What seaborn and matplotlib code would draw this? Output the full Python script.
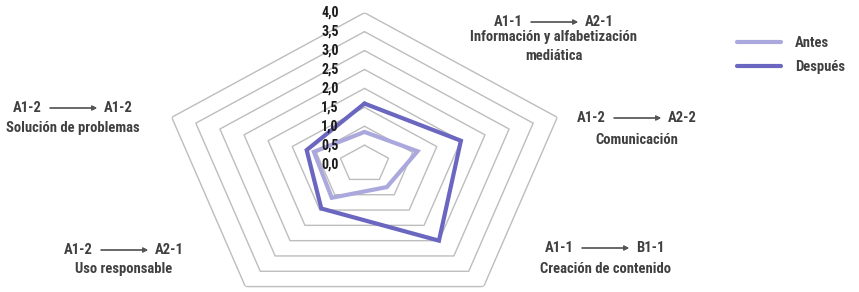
import numpy as np
import pandas as pd
import matplotlib.pyplot as plt
import seaborn as sns
from matplotlib.lines import Line2D

# Datos del gráfico
categorias = ['Información y alfabetización\nmediática', 'Comunicación',
              'Creación de contenido', 'Uso responsable', 'Solución de problemas']
nivel_inicio = ['A1-1', 'A1-2', 'A1-1', 'A1-2', 'A1-2']
nivel_fin = ['A2-1', 'A2-2', 'B1-1', 'A2-1', 'A1-2']
antes = [0.85, 1.1, 0.75, 1.1, 1.05]
despues = [1.6, 2.0, 2.5, 1.45, 1.2]
niveles = [0.0, 0.5, 1.0, 1.5, 2.0, 2.5, 3.0, 3.5, 4.0]
etiquetas_niveles = ['0,0', '0,5', '1,0', '1,5', '2,0', '2,5', '3,0', '3,5', '4,0']

sns.set_style('white')
plt.rcParams['font.family'] = ['Roboto Condensed', 'Archivo Narrow', 'DejaVu Sans']

color_antes = '#aaa8dc'
color_despues = '#6b67c0'
color_texto = '#404040'

# Angulos (sentido horario desde arriba), cerrando el poligono en 2*pi
n = len(categorias)
angulos = list(np.linspace(0, 2 * np.pi, n, endpoint=False)) + [2 * np.pi]

df = pd.DataFrame({
    'angulo': angulos * 2,
    'valor': antes + antes[:1] + despues + despues[:1],
    'grupo': ['Antes'] * (n + 1) + ['Después'] * (n + 1),
})

W, H = 859, 292
fig = plt.figure(figsize=(W / 100, H / 100), dpi=100)
ax = fig.add_axes([161.8 / W, 1 - 315.5 / H, 405.4 / W, 302.8 / H], projection='polar')
ax.set_aspect('auto')
ax.set_theta_zero_location('N')
ax.set_theta_direction(-1)

# Rejilla pentagonal
for lvl in niveles[1:]:
    ax.plot(angulos, [lvl] * (n + 1), color='#bdbdbd', lw=1.0, zorder=1)

sns.lineplot(data=df, x='angulo', y='valor', hue='grupo', sort=False, estimator=None,
             palette={'Antes': color_antes, 'Después': color_despues},
             lw=3, legend=False, ax=ax, solid_joinstyle='miter', zorder=3)

ax.set_ylim(0, 4)
ax.grid(False)
ax.set_xticks([])
ax.set_yticks([])
ax.set_xlabel('')
ax.set_ylabel('')
ax.spines['polar'].set_visible(False)

# Etiquetas de la escala
for lvl, lab in zip(niveles, etiquetas_niveles):
    ax.annotate(lab, xy=(0, lvl), xytext=(-26, 0), textcoords='offset pixels',
                ha='right', va='center', fontsize=10, fontweight='bold', color='#1a1a1a')

# Etiquetas de las categorias (posiciones en pixeles)
pos = [(554, 22, 38), (637, 118, 141), (605, 248, 270), (124, 250, 270), (73, 108, 129)]


def fx(x):
    return x / W


def fy(y):
    return 1 - y / H


for (cx, hy, ny), ini, fin, cat in zip(pos, nivel_inicio, nivel_fin, categorias):
    fig.text(fx(cx - 31), fy(hy), ini, ha='right', va='center', fontsize=10.5,
             fontweight='bold', color=color_texto)
    fig.text(fx(cx + 31), fy(hy), fin, ha='left', va='center', fontsize=10.5,
             fontweight='bold', color=color_texto)
    fig.add_artist(plt.annotate('', xy=(fx(cx + 24), fy(hy)), xytext=(fx(cx - 23), fy(hy)),
                                xycoords='figure fraction',
                                arrowprops=dict(arrowstyle='-|>', color='#555555', lw=0.9,
                                                mutation_scale=7, shrinkA=0, shrinkB=0)))
    fig.text(fx(cx), fy(ny - 8), cat, ha='center', va='top', fontsize=10.5,
             fontweight='bold', color=color_texto, linespacing=1.5)

handles = [Line2D([], [], color=color_antes, lw=3, solid_capstyle='round'),
           Line2D([], [], color=color_despues, lw=3, solid_capstyle='round')]
leg = fig.legend(handles, ['Antes', 'Después'], loc='upper left',
                 bbox_to_anchor=(fx(737), fy(36)), frameon=False, borderpad=0,
                 borderaxespad=0, handlelength=3.0, handletextpad=1.0, labelspacing=0.7,
                 prop={'size': 10.5, 'weight': 'bold'})
for t in leg.get_texts():
    t.set_color(color_texto)

fig.savefig('out.png', dpi=100)
